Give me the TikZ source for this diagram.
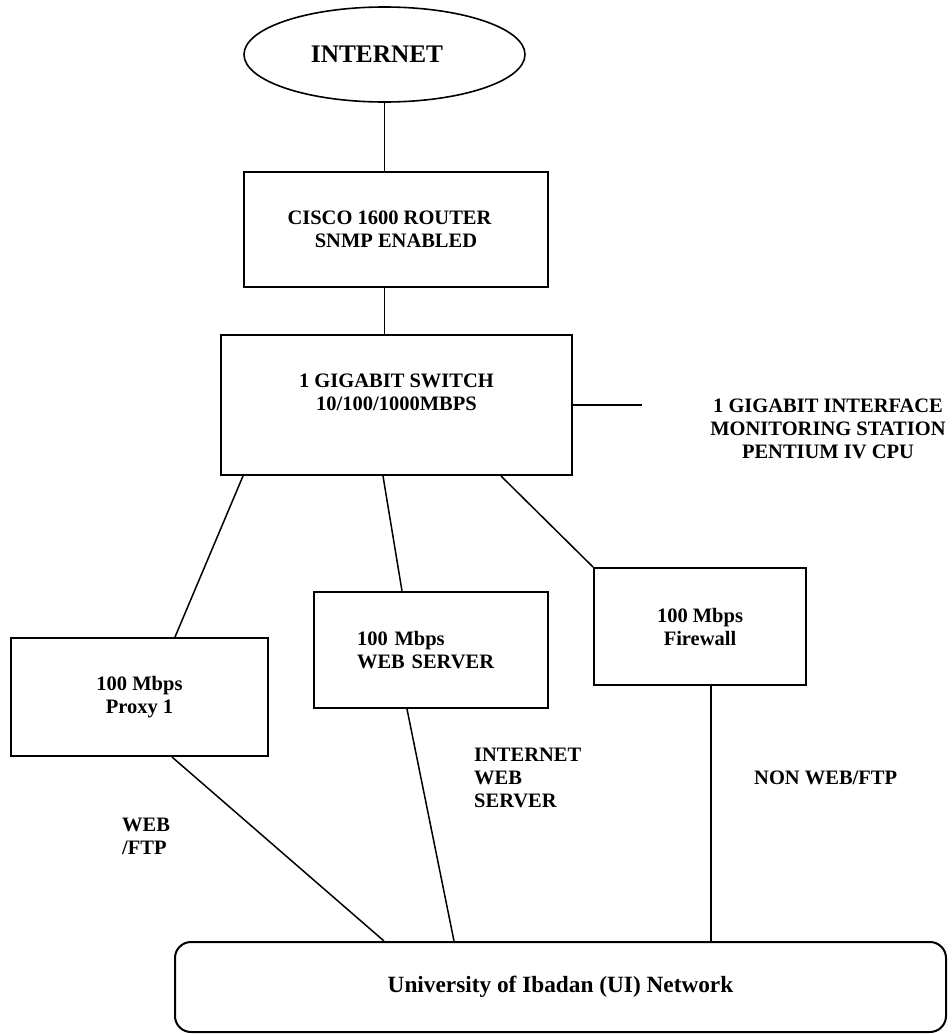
\documentclass[tikz,border=0pt]{standalone}
\usepackage{fontspec}
\setmainfont{Liberation Serif}
\usetikzlibrary{shapes.geometric,calc}
\begin{document}
\begin{tikzpicture}[x=1pt,y=-1pt,
  box/.style={draw, rectangle, line width=2pt, inner sep=0pt},
  txt/.style={font=\fontsize{20.5}{23}\selectfont\bfseries, align=center, inner sep=0pt},
  link/.style={line width=1.5pt}]
\fill[white] (0,0) rectangle (952,1034);
\useasboundingbox (0,0) rectangle (952,1034);

% nodes
\node[ellipse, draw, line width=1.6pt, minimum width=281pt, minimum height=95pt, inner sep=0pt,
      font=\fontsize{25.3}{30}\selectfont\bfseries] (inet) at (384.5,54.5) {INTERNET\hspace{15pt}\mbox{}};
\node[box, txt, minimum width=304pt, minimum height=115pt] (router) at (396,229.5)
      {CISCO 1600 ROUTER\hspace{13pt}\mbox{}\\SNMP ENABLED};
\node[box, minimum width=351pt, minimum height=140pt] (switch) at (396.5,405) {};
\node[txt] (switchtext) at (396.5,392.5) {1 GIGABIT SWITCH\\10/100/1000MBPS};
\coordinate (mon) at (642,405);
\node[txt] (monitor) at (828,429) {1 GIGABIT INTERFACE\\MONITORING STATION\\PENTIUM IV CPU};
\node[box, txt, minimum width=257pt, minimum height=118pt] (proxy) at (139.5,697) {100 Mbps\\Proxy 1};
\node[box, txt, align=left, text width=148pt, inner xsep=43pt, minimum height=116pt] (web) at (431,650)
      {100 Mbps\\WEB SERVER};
\node[box, txt, minimum width=212pt, minimum height=117pt] (fw) at (700,626.5) {100 Mbps\\Firewall};
\node[draw, line width=2pt, rounded corners=16pt, minimum width=771pt, minimum height=90pt, inner sep=0pt,
      font=\fontsize{23.3}{28}\selectfont\bfseries] (uni) at (560.5,987) {University of Ibadan (UI) Network};

% labels
\node[txt, align=left, anchor=west] (lwebftp) at (122,836) {WEB\\/FTP};
\node[txt, align=left, anchor=west] (liws) at (474,778) {INTERNET\\WEB\\SERVER};
\node[txt, anchor=west] (lnon) at (754,778) {NON WEB/FTP};

% connectors
\draw[link] (inet.south) -- (inet.south |- router.north);
\draw[link] (inet.south |- router.south) -- (inet.south |- switch.north);
\draw[link] (switch.east) -- (mon);
\draw[link] ($(switch.south west)+(23,0)$) -- ($(proxy.north west)+(165,0)$);
\draw[link] ($(switch.south west)+(163,0)$) -- ($(web.north west)+(89,0)$);
\draw[link] ($(switch.south west)+(281,0)$) -- (fw.north west);
\draw[link] ($(proxy.south west)+(162,0)$) -- ($(uni.north west)+(210,0)$);
\draw[link] ($(web.south west)+(94,0)$) -- ($(uni.north west)+(280,0)$);
\draw[link] ($(fw.south west)+(118,0)$) -- ($(uni.north west)+(537,0)$);
\end{tikzpicture}
\end{document}
